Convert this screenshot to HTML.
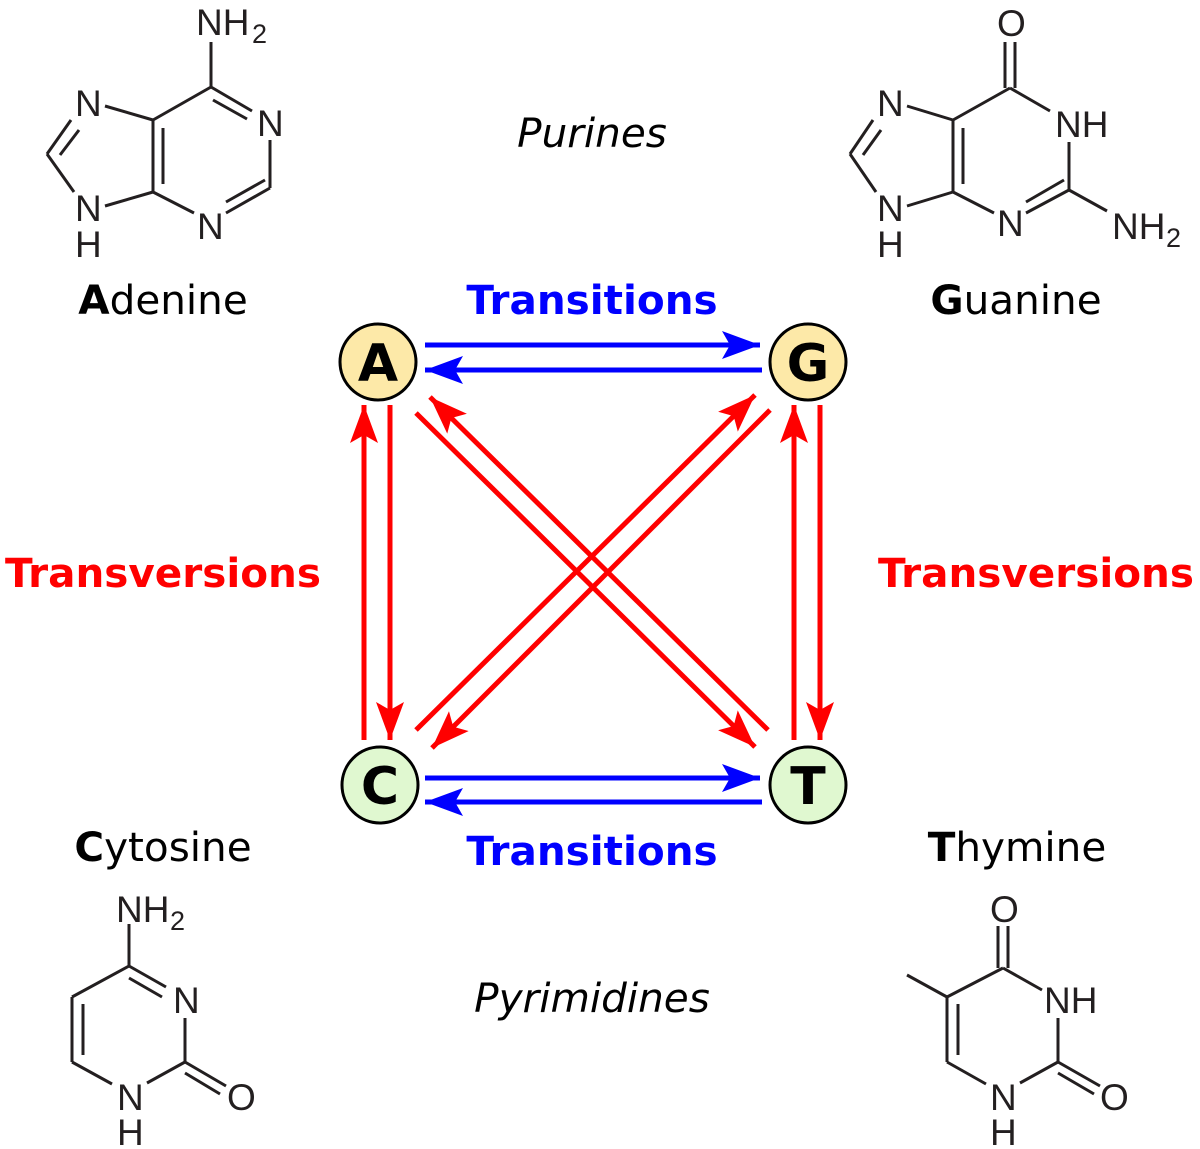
<!DOCTYPE html>
<html><head><meta charset="utf-8"><style>
html,body{margin:0;padding:0;background:#fff;}
svg{display:block;}
.m{font-family:"Liberation Sans",Arial,sans-serif;font-size:37px;fill:#231f20;}
.ms{font-family:"Liberation Sans",Arial,sans-serif;font-size:27px;fill:#231f20;}
.b{stroke:#231f20;stroke-width:3;fill:none;}
.t{font-family:"DejaVu Sans","Liberation Sans",sans-serif;font-size:40.5px;text-anchor:middle;}
</style></head><body>
<svg width="1200" height="1149" viewBox="0 0 1200 1149" xmlns="http://www.w3.org/2000/svg">
<defs>
<marker id="hb" markerWidth="40" markerHeight="30" refX="38" refY="14" orient="auto" markerUnits="userSpaceOnUse">
<path d="M38,14 L0,0 L8,14 L0,28 Z" fill="#0000ff"/></marker>
<marker id="hr" markerWidth="40" markerHeight="30" refX="38" refY="14" orient="auto" markerUnits="userSpaceOnUse">
<path d="M38,14 L0,0 L8,14 L0,28 Z" fill="#ff0000"/></marker>
</defs>

<!-- Adenine -->
<g class="b">
<line x1="211" y1="42" x2="211" y2="87"/>
<line x1="211" y1="87" x2="153" y2="120"/>
<line x1="211" y1="87" x2="252" y2="111"/>
<line x1="213" y1="100" x2="247" y2="119"/>
<line x1="270" y1="140" x2="270" y2="188"/>
<line x1="270" y1="188" x2="226" y2="213"/>
<line x1="265" y1="180" x2="226" y2="202"/>
<line x1="194" y1="213" x2="153" y2="192"/>
<line x1="153" y1="120" x2="153" y2="192"/>
<line x1="163" y1="128" x2="163" y2="184"/>
<line x1="153" y1="120" x2="105" y2="106"/>
<line x1="153" y1="192" x2="105" y2="206"/>
<line x1="71" y1="120" x2="47" y2="154"/>
<line x1="79" y1="130" x2="60" y2="155"/>
<line x1="47" y1="154" x2="74" y2="192"/>
</g>
<text class="m" x="196" y="35">NH</text><text class="ms" x="252" y="43">2</text>
<text class="m" x="257" y="136">N</text>
<text class="m" x="197" y="239">N</text>
<text class="m" x="75" y="116">N</text>
<text class="m" x="75" y="221">N</text>
<text class="m" x="75" y="257">H</text>

<!-- Guanine -->
<g class="b">
<line x1="1005" y1="42" x2="1005" y2="88"/>
<line x1="1015" y1="42" x2="1015" y2="88"/>
<line x1="1010" y1="88" x2="953" y2="120"/>
<line x1="1010" y1="88" x2="1050" y2="111"/>
<line x1="1069" y1="142" x2="1069" y2="190"/>
<line x1="1069" y1="190" x2="1026" y2="213"/>
<line x1="1064" y1="180" x2="1026" y2="202"/>
<line x1="1069" y1="190" x2="1107" y2="211"/>
<line x1="994" y1="213" x2="953" y2="192"/>
<line x1="953" y1="120" x2="953" y2="192"/>
<line x1="963" y1="128" x2="963" y2="184"/>
<line x1="953" y1="120" x2="907" y2="106"/>
<line x1="953" y1="192" x2="907" y2="206"/>
<line x1="873" y1="120" x2="850" y2="154"/>
<line x1="881" y1="130" x2="863" y2="155"/>
<line x1="850" y1="154" x2="876" y2="192"/>
</g>
<text class="m" x="997" y="36">O</text>
<text class="m" x="1055" y="137">NH</text>
<text class="m" x="997" y="236">N</text>
<text class="m" x="1112" y="239">NH</text><text class="ms" x="1166" y="247">2</text>
<text class="m" x="877" y="116">N</text>
<text class="m" x="877" y="221">N</text>
<text class="m" x="877" y="257">H</text>

<!-- Cytosine -->
<g class="b">
<line x1="129" y1="924" x2="129" y2="966"/>
<line x1="129" y1="966" x2="72" y2="997"/>
<line x1="129" y1="966" x2="166" y2="987"/>
<line x1="129" y1="978" x2="162" y2="997"/>
<line x1="185" y1="1018" x2="185" y2="1062"/>
<line x1="185" y1="1062" x2="147" y2="1083"/>
<line x1="185" y1="1062" x2="226" y2="1086"/>
<line x1="185" y1="1073" x2="220" y2="1094"/>
<line x1="72" y1="997" x2="72" y2="1062"/>
<line x1="83" y1="1004" x2="83" y2="1055"/>
<line x1="72" y1="1062" x2="112" y2="1084"/>
</g>
<text class="m" x="116" y="922">NH</text><text class="ms" x="170" y="930">2</text>
<text class="m" x="173" y="1013">N</text>
<text class="m" x="227" y="1110">O</text>
<text class="m" x="117" y="1110">N</text>
<text class="m" x="117" y="1145">H</text>

<!-- Thymine -->
<g class="b">
<line x1="998" y1="926" x2="998" y2="968"/>
<line x1="1008" y1="926" x2="1008" y2="968"/>
<line x1="1003" y1="968" x2="947" y2="997"/>
<line x1="1003" y1="968" x2="1042" y2="990"/>
<line x1="947" y1="997" x2="907" y2="975"/>
<line x1="1058" y1="1018" x2="1058" y2="1062"/>
<line x1="1058" y1="1062" x2="1020" y2="1083"/>
<line x1="1058" y1="1062" x2="1100" y2="1086"/>
<line x1="1058" y1="1073" x2="1094" y2="1094"/>
<line x1="947" y1="997" x2="947" y2="1062"/>
<line x1="958" y1="1004" x2="958" y2="1055"/>
<line x1="947" y1="1062" x2="986" y2="1084"/>
</g>
<text class="m" x="990" y="922">O</text>
<text class="m" x="1044" y="1013">NH</text>
<text class="m" x="1100" y="1110">O</text>
<text class="m" x="990" y="1110">N</text>
<text class="m" x="990" y="1145">H</text>

<!-- labels -->
<text class="t" x="592" y="147" font-style="italic">Purines</text>
<text class="t" x="592" y="1012" font-style="italic">Pyrimidines</text>
<text class="t" x="592" y="314" font-weight="bold" fill="#0000ff">Transitions</text>
<text class="t" x="592" y="865" font-weight="bold" fill="#0000ff">Transitions</text>
<text class="t" x="163" y="587" font-weight="bold" fill="#ff0000">Transversions</text>
<text class="t" x="1036" y="587" font-weight="bold" fill="#ff0000">Transversions</text>
<text class="t" x="163" y="314"><tspan font-weight="bold">A</tspan>denine</text>
<text class="t" x="1016" y="314"><tspan font-weight="bold">G</tspan>uanine</text>
<text class="t" x="163" y="861"><tspan font-weight="bold">C</tspan>ytosine</text>
<text class="t" x="1017" y="861"><tspan font-weight="bold">T</tspan>hymine</text>

<!-- arrows -->
<g stroke-width="5" fill="none">
<line x1="425" y1="345" x2="760" y2="345" stroke="#0000ff" marker-end="url(#hb)"/>
<line x1="762" y1="370" x2="425" y2="370" stroke="#0000ff" marker-end="url(#hb)"/>
<line x1="425" y1="778" x2="760" y2="778" stroke="#0000ff" marker-end="url(#hb)"/>
<line x1="762" y1="802" x2="425" y2="802" stroke="#0000ff" marker-end="url(#hb)"/>

<line x1="364" y1="740" x2="364" y2="405" stroke="#ff0000" marker-end="url(#hr)"/>
<line x1="390" y1="405" x2="390" y2="740" stroke="#ff0000" marker-end="url(#hr)"/>
<line x1="794" y1="740" x2="794" y2="405" stroke="#ff0000" marker-end="url(#hr)"/>
<line x1="820" y1="405" x2="820" y2="740" stroke="#ff0000" marker-end="url(#hr)"/>

<line x1="416" y1="413" x2="755" y2="747" stroke="#ff0000" marker-end="url(#hr)"/>
<line x1="768" y1="730" x2="430" y2="397" stroke="#ff0000" marker-end="url(#hr)"/>
<line x1="770" y1="410" x2="432" y2="748" stroke="#ff0000" marker-end="url(#hr)"/>
<line x1="416" y1="730" x2="755" y2="395" stroke="#ff0000" marker-end="url(#hr)"/>
</g>

<!-- nodes -->
<g stroke="#000" stroke-width="3">
<circle cx="378" cy="362" r="38" fill="#fde9a8"/>
<circle cx="808" cy="362" r="38" fill="#fde9a8"/>
<circle cx="380" cy="785" r="38" fill="#e0f8d0"/>
<circle cx="808" cy="785" r="38" fill="#e0f8d0"/>
</g>
<g font-family="DejaVu Sans,Liberation Sans,sans-serif" font-weight="bold" font-size="52" text-anchor="middle">
<text x="378" y="381">A</text>
<text x="808" y="381">G</text>
<text x="380" y="804">C</text>
<text x="808" y="804">T</text>
</g>
</svg>
</body></html>
